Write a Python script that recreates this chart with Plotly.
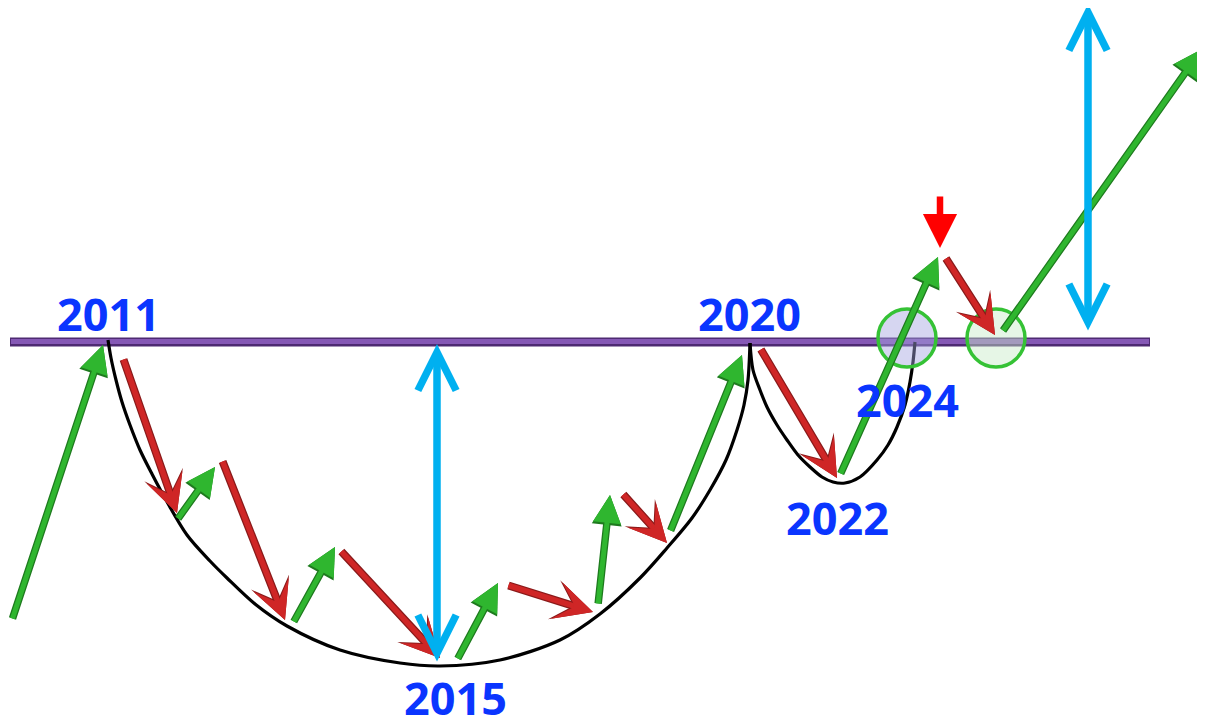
import plotly.graph_objects as go

# ---- data (diagram coordinates: x to the right, y downward) ----
resistance_y = 342
resistance_x = [10, 1150]

cup_x = [108, 111, 116, 122, 130, 140, 152, 166, 187, 210, 227, 255, 287, 340, 400, 440, 500, 560, 600, 640, 667, 692, 710, 726, 737, 744, 748, 750]
cup_y = [340, 358, 380, 402, 425, 450, 474, 500, 535, 561, 578, 604, 626, 650, 663, 666, 660, 640, 614, 578, 548, 518, 490, 460, 430, 405, 380, 343]

handle_x = [750, 753, 760, 767, 777, 787, 798, 810, 822, 833, 845, 860, 877, 888, 897, 905, 910, 913, 915]
handle_y = [343, 370, 390, 407, 425, 440, 455, 467, 477, 482, 483, 477, 460, 445, 427, 405, 382, 362, 342]

# up moves (green): tail -> head
up_tail_x = [12, 177, 293, 457, 598, 670, 840, 1002]
up_tail_y = [620, 520, 623, 660, 605, 532, 475, 332]
up_head_x = [103, 215, 335, 498, 610, 742, 938, 1202]
up_head_y = [345, 467, 547, 583, 495, 355, 257, 49]

# down moves (red): tail -> head
down_tail_x = [123, 222, 340, 507, 622, 760, 945]
down_tail_y = [358, 460, 550, 585, 493, 348, 257]
down_head_x = [177, 285, 440, 593, 667, 837, 995]
down_head_y = [513, 620, 658, 612, 543, 478, 335]

# measured depth / target (blue double arrows)
depth_x = [437, 1088]
depth_top = [344, 4]
depth_bottom = [663, 332]

# warning marker
warn_x = 940
warn_tail_y = 195
warn_head_y = 248

# breakout / retest circles
circle_cx = [907, 996]
circle_cy = [338, 338]
circle_r = 29
circle_fill = ["rgba(165,165,225,0.45)", "rgba(200,235,200,0.45)"]

year_labels = ["2011", "2020", "2024", "2022", "2015"]
year_x = [108, 749, 907, 837, 455]
year_y = [313, 313, 399, 517, 697]

# page offset of the plot inside the browser page (default body margin)
PAGE_OFF = 8

# ---- figure ----
fig = go.Figure()

for xs, ys in ((cup_x, cup_y), (handle_x, handle_y)):
    fig.add_trace(go.Scatter(x=xs, y=ys, mode="lines",
                             line=dict(color="black", width=3.2, shape="spline", smoothing=0.9),
                             hoverinfo="skip", showlegend=False))

shapes = []
shapes.append(dict(type="line", x0=resistance_x[0], x1=resistance_x[1], y0=resistance_y, y1=resistance_y,
                   line=dict(color="#4e2a72", width=9), layer="below"))
shapes.append(dict(type="line", x0=resistance_x[0] + 1, x1=resistance_x[1] - 1, y0=resistance_y - 0.5, y1=resistance_y - 0.5,
                   line=dict(color="#8558b5", width=5), layer="below"))
for cx, cy, fc in zip(circle_cx, circle_cy, circle_fill):
    shapes.append(dict(type="circle", x0=cx - circle_r, x1=cx + circle_r, y0=cy - circle_r, y1=cy + circle_r,
                       line=dict(color="#35c235", width=3.5), fillcolor=fc, layer="above"))

ann = []


def arrow(tx, ty, hx, hy, color, width, head, size, side="end"):
    return dict(x=hx, y=hy, ax=tx, ay=ty, xref="x", yref="y", axref="x", ayref="y", text="",
                showarrow=True, arrowhead=head, arrowsize=size, arrowwidth=width, arrowcolor=color,
                startarrowhead=head, startarrowsize=size, arrowside=side, standoff=0, startstandoff=0)


for tx, ty, hx, hy in zip(down_tail_x, down_tail_y, down_head_x, down_head_y):
    ann.append(arrow(tx, ty, hx, hy, "#8a1a1a", 8, 3, 0.85))
    ann.append(arrow(tx, ty, hx, hy, "#cf2626", 5.5, 3, 1.15))
for tx, ty, hx, hy in zip(up_tail_x, up_tail_y, up_head_x, up_head_y):
    ann.append(arrow(tx, ty, hx, hy, "#1e7a1e", 7.5, 2, 0.8))
    ann.append(arrow(tx, ty, hx, hy, "#2fb62f", 5, 2, 1.12))
for x, yt, yb in zip(depth_x, depth_top, depth_bottom):
    ann.append(arrow(x, yb, x, yt, "#00b0f0", 7.5, 5, 1.0, side="end+start"))
ann.append(arrow(warn_x, warn_tail_y, warn_x, warn_head_y, "#ff0000", 6.5, 2, 1.05))

for t, x, y in zip(year_labels, year_x, year_y):
    ann.append(dict(x=x, y=y, xref="x", yref="y", text=t, showarrow=False,
                    font=dict(family="Open Sans", size=45, color="#0a35ff", weight="bold"),
                    xanchor="center", yanchor="middle"))

fig.update_layout(
    width=1205, height=719,
    margin=dict(l=0, r=0, t=0, b=0),
    paper_bgcolor="white", plot_bgcolor="white",
    xaxis=dict(range=[PAGE_OFF, 1205 + PAGE_OFF], visible=False, fixedrange=True),
    yaxis=dict(range=[719 + PAGE_OFF, PAGE_OFF], visible=False, fixedrange=True),
    shapes=shapes, annotations=ann, showlegend=False,
)

fig.write_html("out.html")
